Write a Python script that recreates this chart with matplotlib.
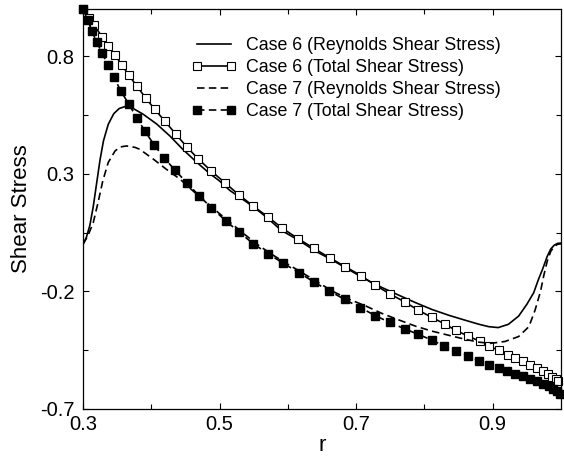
import matplotlib
matplotlib.use("Agg")
import matplotlib.pyplot as plt

plt.rcParams["font.family"] = ["Liberation Sans", "DejaVu Sans"]
plt.rcParams["axes.unicode_minus"] = False

# Case 6, total shear stress (open squares)
r_tot6 = [0.300, 0.309, 0.316, 0.328, 0.3365, 0.347, 0.357, 0.367, 0.379, 0.392,
          0.405, 0.420, 0.436, 0.452, 0.469, 0.488, 0.508, 0.528, 0.549, 0.571,
          0.592, 0.615, 0.638, 0.661, 0.684, 0.707, 0.728, 0.749, 0.771, 0.791,
          0.811, 0.830, 0.846, 0.864, 0.881, 0.895, 0.909, 0.922, 0.933, 0.944,
          0.955, 0.965, 0.973, 0.981, 0.987, 0.992, 0.996]
tot6 = [1.000, 0.962, 0.932, 0.882, 0.843, 0.804, 0.762, 0.719, 0.672, 0.621,
        0.574, 0.523, 0.468, 0.414, 0.362, 0.311, 0.261, 0.211, 0.163, 0.116,
        0.068, 0.024, -0.017, -0.057, -0.095, -0.133, -0.174, -0.210, -0.245, -0.280,
        -0.311, -0.339, -0.366, -0.390, -0.412, -0.433, -0.451, -0.469, -0.482, -0.497,
        -0.511, -0.525, -0.539, -0.553, -0.565, -0.574, -0.583]

# Case 7, total shear stress (filled squares)
r_tot7 = [0.300, 0.307, 0.313, 0.320, 0.328, 0.3365, 0.345, 0.3555, 0.367, 0.379,
          0.391, 0.404, 0.419, 0.435, 0.452, 0.470, 0.488, 0.509, 0.529, 0.549,
          0.571, 0.593, 0.616, 0.638, 0.660, 0.683, 0.706, 0.728, 0.749, 0.771,
          0.791, 0.811, 0.829, 0.846, 0.864, 0.880, 0.894, 0.909, 0.921, 0.933,
          0.944, 0.955, 0.965, 0.973, 0.982, 0.988, 0.994, 0.998]
tot7 = [1.000, 0.953, 0.906, 0.860, 0.813, 0.762, 0.711, 0.651, 0.596, 0.536,
        0.480, 0.423, 0.367, 0.314, 0.262, 0.206, 0.156, 0.100, 0.051, 0.003,
        -0.040, -0.080, -0.120, -0.160, -0.197, -0.234, -0.269, -0.303, -0.332, -0.359,
        -0.383, -0.407, -0.433, -0.454, -0.474, -0.494, -0.511, -0.525, -0.539, -0.550,
        -0.560, -0.571, -0.582, -0.593, -0.603, -0.613, -0.624, -0.638]

# Case 6, Reynolds shear stress (solid line)
r_rey6 = [0.300, 0.305, 0.310, 0.315, 0.320, 0.325, 0.330, 0.337, 0.345, 0.353,
          0.361, 0.373, 0.388, 0.408, 0.427, 0.446, 0.466, 0.485, 0.500, 0.515,
          0.534, 0.551, 0.570, 0.590, 0.617, 0.641, 0.665, 0.690, 0.714, 0.738,
          0.763, 0.787, 0.811, 0.836, 0.860, 0.880, 0.894, 0.908, 0.923, 0.938,
          0.950, 0.960, 0.967, 0.973, 0.980, 0.985, 0.990, 0.995, 1.000]
rey6 = [0.000, 0.030, 0.080, 0.160, 0.260, 0.360, 0.440, 0.510, 0.555, 0.577,
        0.585, 0.578, 0.553, 0.511, 0.461, 0.404, 0.350, 0.302, 0.269, 0.229,
        0.191, 0.156, 0.112, 0.060, 0.015, -0.030, -0.067, -0.109, -0.149, -0.184,
        -0.217, -0.248, -0.277, -0.302, -0.323, -0.340, -0.350, -0.354, -0.340, -0.305,
        -0.255, -0.206, -0.149, -0.106, -0.050, -0.020, -0.004, 0.004, 0.005]

# Case 7, Reynolds shear stress (dashed line)
r_rey7 = [0.300, 0.307, 0.315, 0.322, 0.329, 0.337, 0.347, 0.355, 0.364, 0.376,
          0.383, 0.403, 0.422, 0.442, 0.461, 0.481, 0.498, 0.515, 0.535, 0.555,
          0.575, 0.596, 0.617, 0.641, 0.665, 0.690, 0.714, 0.738, 0.763, 0.787,
          0.811, 0.836, 0.860, 0.880, 0.897, 0.918, 0.938, 0.953, 0.962, 0.970,
          0.975, 0.980, 0.985, 0.990, 0.995, 1.000]
rey7 = [0.000, 0.035, 0.092, 0.177, 0.270, 0.348, 0.397, 0.414, 0.418, 0.412,
        0.404, 0.362, 0.319, 0.277, 0.227, 0.177, 0.135, 0.094, 0.046, 0.000,
        -0.040, -0.078, -0.114, -0.156, -0.199, -0.234, -0.262, -0.294, -0.322, -0.348,
        -0.369, -0.387, -0.404, -0.416, -0.421, -0.413, -0.392, -0.350, -0.280, -0.200,
        -0.130, -0.070, -0.030, -0.010, 0.000, 0.002]

labels = ["Case 6 (Reynolds Shear Stress)", "Case 6 (Total Shear Stress)",
          "Case 7 (Reynolds Shear Stress)", "Case 7 (Total Shear Stress)"]

fig = plt.figure(figsize=(5.64, 4.58), dpi=100)
ax = fig.add_axes([83 / 564, 1 - 409 / 458, 478 / 564, 400 / 458])

dash = (0, (4.5, 2.6))
ax.plot(r_rey6, rey6, color="black", lw=1.2, label=labels[0])
ax.plot(r_tot6, tot6, color="black", lw=1.2, marker="s", ms=5.2,
        mfc="white", mec="black", mew=0.8, label=labels[1], clip_on=False)
ax.plot(r_rey7, rey7, color="black", lw=1.2, ls=dash, label=labels[2])
ax.plot(r_tot7, tot7, color="black", lw=1.2, ls=dash, marker="s", ms=5.6,
        mfc="black", mec="black", label=labels[3], clip_on=False)

ax.set_xlim(0.3, 1.0)
ax.set_ylim(-0.7, 1.0)
ax.set_xticks([0.3, 0.5, 0.7, 0.9])
ax.set_xticks([0.4, 0.6, 0.8], minor=True)
ax.set_yticks([-0.7, -0.2, 0.3, 0.8])
ax.set_yticks([-0.45, 0.05, 0.55], minor=True)
ax.tick_params(which="both", direction="in", top=True, right=True,
               labelsize=14.5, width=0.8)
ax.tick_params(which="major", length=4)
ax.tick_params(which="minor", length=3.5)
ax.tick_params(axis="y", pad=6)
ax.tick_params(axis="x", pad=4)
for s in ax.spines.values():
    s.set_linewidth(0.9)

ax.set_xlabel("r", fontsize=16, labelpad=1)
ax.set_ylabel("Shear Stress", fontsize=16, labelpad=6)

ax.legend(loc="upper left", bbox_to_anchor=(0.228, 0.93), frameon=False,
          fontsize=12.8, handlelength=2.5, handletextpad=0.55, numpoints=2,
          labelspacing=0.29, borderpad=0, borderaxespad=0)

fig.savefig("out.png", dpi=100)
